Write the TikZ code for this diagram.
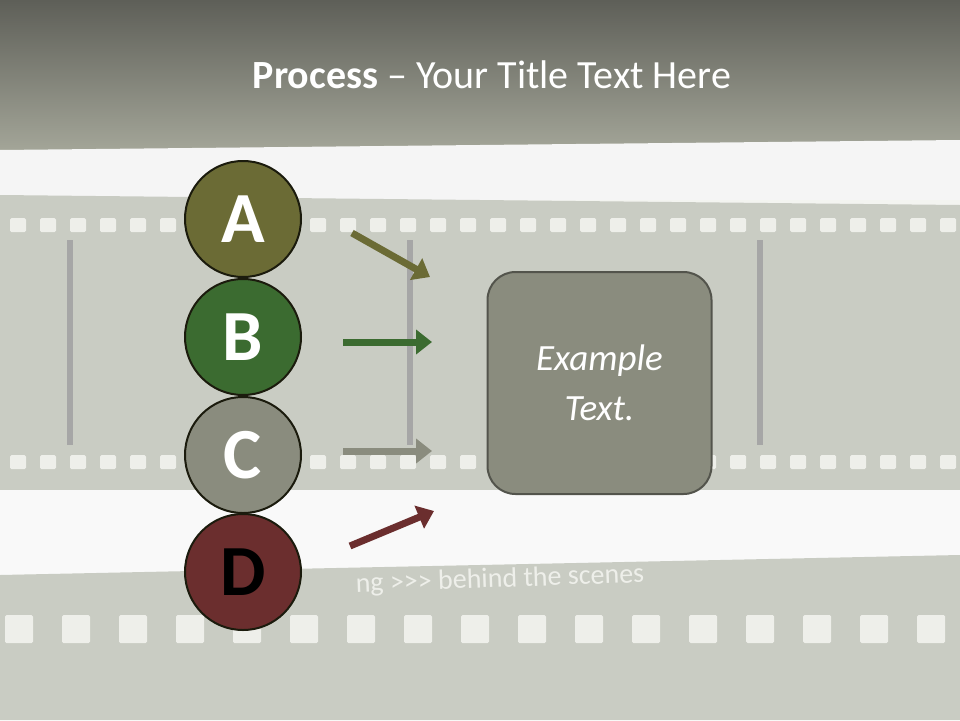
\documentclass[tikz,border=0pt]{standalone}
\usepackage{fontspec}
\setmainfont{Carlito}
\usetikzlibrary{arrows.meta}
\definecolor{cA}{HTML}{6B6B35}
\definecolor{cB}{HTML}{3B6B30}
\definecolor{cC}{HTML}{8A8C7E}
\definecolor{cD}{HTML}{6B2E2E}
\definecolor{strip}{HTML}{C9CCC3}
\definecolor{hole}{HTML}{EEEFEA}
\definecolor{topA}{HTML}{5E5F58}
\definecolor{topB}{HTML}{A3A598}
\tikzset{
  letter/.style={circle,draw=black!75!cA,line width=2pt,minimum size=116pt,inner sep=0pt,font=\bfseries\fontsize{72}{72}\selectfont,text=white},
  arr/.style={line width=7pt,-{Triangle[length=16pt,width=24pt]}},
  hl/.style={fill=hole,rounded corners=1.5pt}
}
\begin{document}
\begin{tikzpicture}[x=1pt,y=-1pt]
\useasboundingbox (0,0) rectangle (960,720);
% background
\fill[hole!70!white] (0,0) rectangle (960,720);
\shade[top color=topA,bottom color=topB] (0,0) rectangle (960,150);
\fill[white!92!gray] (0,150) -- (960,140) -- (960,200) -- (0,200) -- cycle;
% upper strip
\fill[strip] (0,195) -- (960,205) -- (960,490) -- (0,490) -- cycle;
\foreach \x in {10,40,...,950}{\fill[hl] (\x,218) rectangle ++(16,14);}
\foreach \x in {10,40,...,950}{\fill[hl] (\x,455) rectangle ++(16,14);}
\foreach \x in {70,410,760}{\draw[gray!70,line width=6pt] (\x,240) -- (\x,445);}
\fill[white!95!gray] (0,490) -- (960,490) -- (960,560) -- (0,575) -- cycle;
% lower strip
\fill[strip] (0,575) -- (960,555) -- (960,720) -- (0,720) -- cycle;
\foreach \x in {5,62,...,960}{\fill[hl] (\x,615) rectangle ++(28,28);}
\node[text=hole,font=\fontsize{28}{28}\selectfont,rotate=2] (bts) at (500,580) {ng {>}{>}{>} behind the scenes};
% title
\node[text=white,font=\fontsize{40}{40}\selectfont] (title) at (492,75) {\textbf{Process} -- Your Title Text Here};
% box
\node[draw=black!40!cC,line width=2pt,fill=cC,rounded corners=28pt,minimum width=224pt,minimum height=222pt,
  text=white,font=\itshape\fontsize{37}{50}\selectfont,align=center] (box) at (599.5,383) {Example\\Text.};
% arrows
\coordinate (a1) at (352,233); \coordinate (a2) at (430,277);
\coordinate (b1) at (343,342); \coordinate (b2) at (432,342);
\coordinate (c1) at (343,451); \coordinate (c2) at (432,451);
\coordinate (d1) at (350,546); \coordinate (d2) at (434,511);
\draw[arr,cA] (a1) -- (a2);
\draw[arr,cB] (b1) -- (b2);
\draw[arr,cC] (c1) -- (c2);
\draw[arr,cD] (d1) -- (d2);
% circles
\node[letter,fill=cA] (A) at (243,219) {A};
\node[letter,fill=cB] (B) at (243,337) {B};
\node[letter,fill=cC] (C) at (243,455) {C};
\node[letter,fill=cD,text=black] (D) at (243,572) {D};
\end{tikzpicture}
\end{document}
